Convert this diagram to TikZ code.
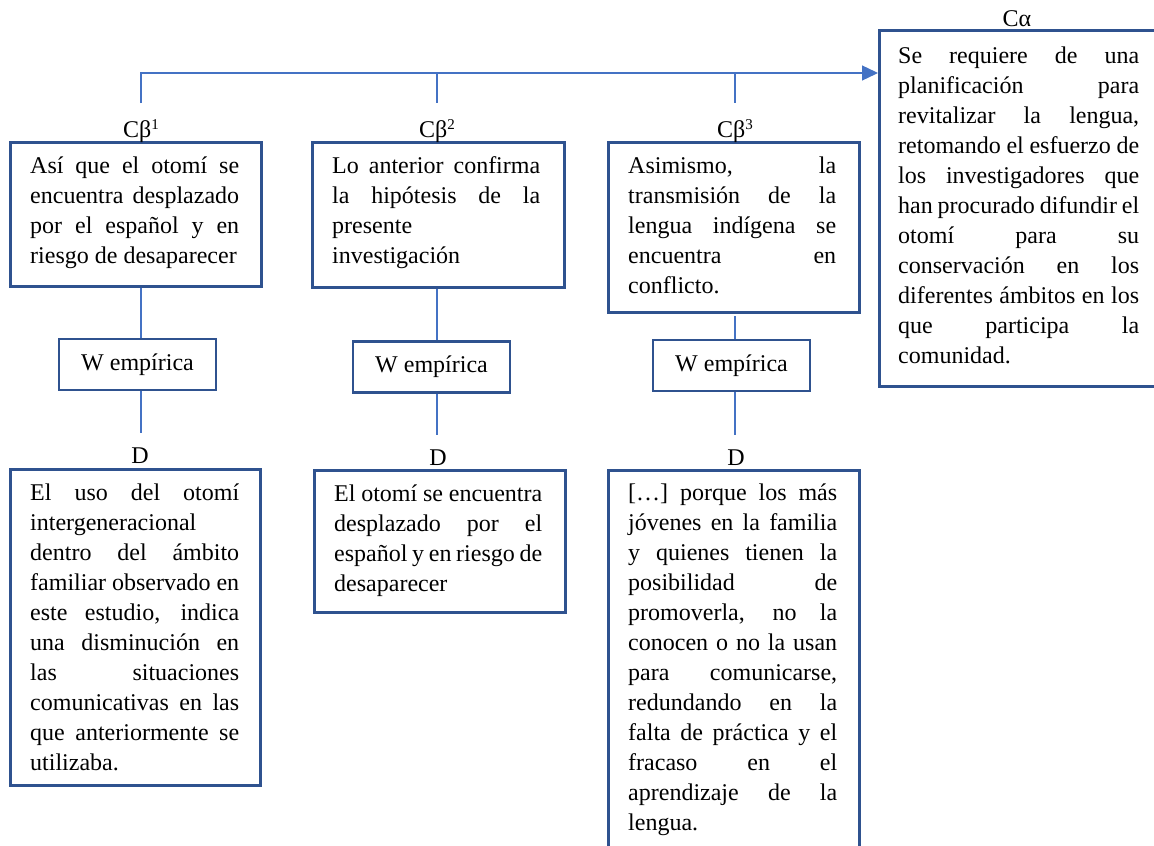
\documentclass[tikz,border=0pt]{standalone}
\usepackage{fontspec}
\setmainfont{Liberation Serif}
\usetikzlibrary{arrows.meta}
\definecolor{boxblue}{HTML}{2F528F}
\definecolor{linkblue}{HTML}{4472C4}
% a paragraph of fixed width; \fl spreads one full line over that width
\newcommand\para[2]{\parbox[t]{#1}{\def\colw{#1}\fontsize{24}{30}\selectfont #2}}
\newcommand\fl[1]{\makebox[\colw][s]{#1}}
\newcommand\betaidx[1]{\raisebox{8pt}{\fontsize{15}{15}\selectfont #1}}
\tikzset{
  box/.style={draw=boxblue, line width=2.5pt, inner sep=0pt, anchor=north west},
  wbox/.style={draw=boxblue, line width=2.5pt, inner sep=0pt, anchor=center,
    minimum height=51pt, font=\fontsize{24}{30}\selectfont},
  conn/.style={draw=linkblue, line width=1.3pt},
  tag/.style={anchor=base, inner sep=0pt, font=\fontsize{24}{30}\selectfont},
  txt/.style={anchor=base west, inner sep=0pt},
}
\begin{document}
\begin{tikzpicture}[x=1pt, y=-1pt]
\useasboundingbox (0,0) rectangle (1154,846);
\fill[white] (0,0) rectangle (1154,846);
\clip (0,0) rectangle (1154,846);

% boxes
\node[box, minimum width=251pt, minimum height=144pt] (c1) at (9,141) {};
\node[box, minimum width=252pt, minimum height=145pt] (c2) at (311,141) {};
\node[box, minimum width=251pt, minimum height=170pt] (c3) at (607,141) {};
\node[box, minimum width=290pt, minimum height=356pt] (ca) at (878,29) {};
\node[wbox, minimum width=157pt] (w1) at (137.5,364.5) {W empírica};
\node[wbox, minimum width=157pt] (w2) at (431.5,367) {W empírica};
\node[wbox, minimum width=157pt] (w3) at (731.5,365.5) {W empírica};
\node[box, minimum width=250pt, minimum height=316pt] (d1) at (9,468) {};
\node[box, minimum width=251pt, minimum height=142pt] (d2) at (313,469) {};
\node[box, minimum width=251pt, minimum height=400pt] (d3) at (607,469) {};

% labels
\node[tag] (lc1) at (141,137) {Cβ\betaidx{1}};
\node[tag] (lc2) at (437,137) {Cβ\betaidx{2}};
\node[tag] (lc3) at (735,137) {Cβ\betaidx{3}};
\node[tag] (lca) at (1017,26) {Cα};
\node[tag] (ld1) at (140,463) {D};
\node[tag] (ld2) at (438,465) {D};
\node[tag] (ld3) at (736,465) {D};

% connectors
\coordinate (s1) at (141,73);
\coordinate (s2) at (437,73);
\coordinate (s3) at (735,73);
\coordinate (s1e) at (141,103);
\coordinate (s2e) at (437,103);
\coordinate (s3e) at (735,103);
\coordinate (g3) at (735,316);
\coordinate (k1) at (141,433);
\coordinate (k2) at (437,435);
\coordinate (k3) at (735,435);
\draw[conn, -{Triangle[length=16pt,width=15pt]}] (s1e) -- (s1) -- (ca.west |- s1);
\draw[conn] (s2) -- (s2e);
\draw[conn] (s3) -- (s3e);
\draw[conn] (c1.south -| s1) -- (w1.north -| s1);
\draw[conn] (w1.south -| s1) -- (k1);
\draw[conn] (c2.south -| s2) -- (w2.north -| s2);
\draw[conn] (w2.south -| s2) -- (k2);
\draw[conn] (g3) -- (w3.north -| s3);
\draw[conn] (w3.south -| s3) -- (k3);

% texts
\node[txt] (c1t) at (30,173) {\para{209pt}{%
\fl{Así que el otomí se}\\
\fl{encuentra desplazado}\\
\fl{por el español y en}\\
riesgo de desaparecer}};

\node[txt] (c2t) at (332,173) {\para{208pt}{%
\fl{Lo anterior confirma}\\
\fl{la hipótesis de la}\\
presente\\
investigación}};

\node[txt] (c3t) at (628,173) {\para{208pt}{%
\fl{Asimismo, la}\\
\fl{transmisión de la}\\
\fl{lengua indígena se}\\
\fl{encuentra en}\\
conflicto.}};

\node[txt] (cat) at (898,63) {\para{241pt}{%
\fl{Se requiere de una}\\
\fl{planificación para}\\
\fl{revitalizar la lengua,}\\
\fl{retomando el esfuerzo de}\\
\fl{los investigadores que}\\
\fl{han procurado difundir el}\\
\fl{otomí para su}\\
\fl{conservación en los}\\
\fl{diferentes ámbitos en los}\\
\fl{que participa la}\\
comunidad.}};

\node[txt] (d1t) at (30,500) {\para{209pt}{%
\fl{El uso del otomí}\\
intergeneracional\\
\fl{dentro del ámbito}\\
\fl{familiar observado en}\\
\fl{este estudio, indica}\\
\fl{una disminución en}\\
\fl{las situaciones}\\
\fl{comunicativas en las}\\
\fl{que anteriormente se}\\
utilizaba.}};

\node[txt] (d2t) at (334,501) {\para{208pt}{%
\fl{El otomí se encuentra}\\
\fl{desplazado por el}\\
\fl{español y en riesgo de}\\
desaparecer}};

\node[txt] (d3t) at (628,500) {\para{209pt}{%
\fl{[…] porque los más}\\
\fl{jóvenes en la familia}\\
\fl{y quienes tienen la}\\
\fl{posibilidad de}\\
\fl{promoverla, no la}\\
\fl{conocen o no la usan}\\
\fl{para comunicarse,}\\
\fl{redundando en la}\\
\fl{falta de práctica y el}\\
\fl{fracaso en el}\\
\fl{aprendizaje de la}\\
lengua.}};
\end{tikzpicture}
\end{document}
